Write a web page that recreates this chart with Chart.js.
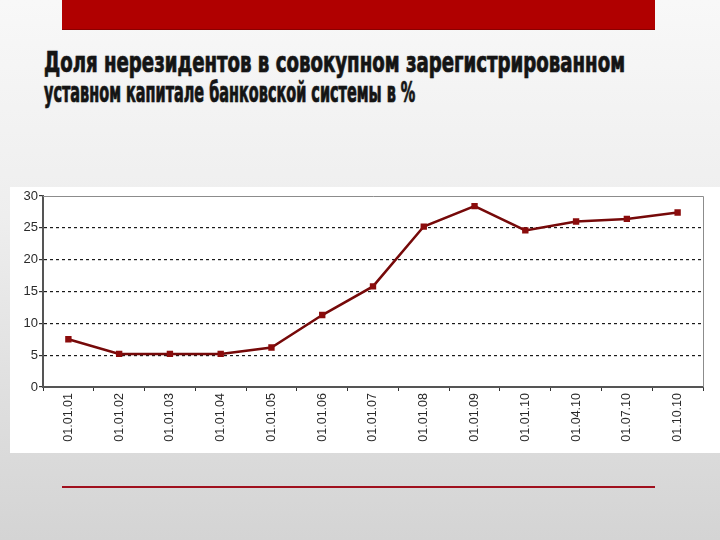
<!DOCTYPE html>
<html>
<head>
<meta charset="utf-8">
<script src="https://cdn.jsdelivr.net/npm/chart.js@4"></script>
<style>
  html, body {
    margin: 0;
    padding: 0;
  }
  body {
    width: 720px;
    height: 540px;
    position: relative;
    overflow: hidden;
    background: linear-gradient(to bottom, #f8f8f8 0%, #eeeeee 40%, #dedede 75%, #d4d4d4 100%);
  }
  .topbar {
    position: absolute;
    left: 62px;
    top: 0;
    width: 593px;
    height: 29px;
    background: #b00000;
    border-bottom: 1px solid #8a0000;
  }
  .title {
    position: absolute;
    left: 44px;
    top: 48px;
    font-family: "DejaVu Sans Condensed", "DejaVu Sans", sans-serif;
    font-weight: bold;
    font-size: 28px;
    line-height: 30px;
    color: #141414;
    -webkit-text-stroke: 0.7px #141414;
    text-shadow: 0 0 2px rgba(0, 0, 0, 0.25);
  }
  .title span {
    display: block;
    white-space: nowrap;
    transform-origin: left top;
  }
  .chartbox {
    position: absolute;
    left: 10px;
    top: 187px;
    width: 710px;
    height: 266px;
    background: #ffffff;
  }
  .bottomline {
    position: absolute;
    left: 62px;
    top: 486px;
    width: 593px;
    height: 2px;
    background: #a0101e;
  }
</style>
</head>
<body>
<div class="topbar"></div>
<div class="title">
  <span id="t1">Доля нерезидентов в совокупном зарегистрированном</span>
  <span id="t2">уставном капитале банковской системы в %</span>
</div>
<div class="chartbox">
  <canvas id="share" width="710" height="266"></canvas>
</div>
<div class="bottomline"></div>

<script>
  // squeeze the title to the condensed look of the slide
  function squeeze(id, w) {
    var el = document.getElementById(id);
    var r = el.getBoundingClientRect().width;
    el.style.transform = 'scaleX(' + (w / r) + ')';
  }
  squeeze('t1', 581);
  squeeze('t2', 462);

  // dates and share of non-residents, %
  var dates = ['01.01.01', '01.01.02', '01.01.03', '01.01.04', '01.01.05', '01.01.06', '01.01.07',
    '01.01.08', '01.01.09', '01.01.10', '01.04.10', '01.07.10', '01.10.10'];
  var shares = [7.5, 5.2, 5.2, 5.2, 6.2, 11.3, 15.8, 25.2, 28.4, 24.6, 26.0, 26.4, 27.4];
  var yTicks = [0, 5, 10, 15, 20, 25, 30];

  // gray frame on top and right of the plot
  var frame = {
    id: 'frame',
    afterDraw: (chart) => {
      var a = chart.chartArea;
      var ctx = chart.ctx;
      ctx.save();
      ctx.strokeStyle = '#8c8c8c';
      ctx.lineWidth = 1;
      ctx.beginPath();
      ctx.moveTo(a.left, a.top + 0.5);
      ctx.lineTo(a.right + 0.5, a.top + 0.5);
      ctx.lineTo(a.right + 0.5, a.bottom);
      ctx.stroke();
      ctx.restore();
    }
  };

  new Chart(document.getElementById('share'), {
    type: 'line',
    data: {
      labels: dates,
      datasets: [{
        data: shares,
        borderColor: '#760909',
        borderWidth: 2.5,
        backgroundColor: '#8b0c0c',
        pointStyle: 'rect',
        pointRadius: 4.5,
        pointBorderWidth: 0,
        tension: 0
      }]
    },
    options: {
      responsive: false,
      animation: false,
      devicePixelRatio: 1,
      layout: { padding: { top: 9, right: 17, left: 0, bottom: 0 } },
      plugins: {
        legend: { display: false },
        tooltip: { enabled: false }
      },
      scales: {
        x: {
          offset: true,
          afterFit: (s) => { s.height = 66; },
          grid: {
            offset: true,
            drawOnChartArea: false,
            drawTicks: true,
            tickLength: 4,
            color: '#333333'
          },
          border: { color: '#555555', width: 2 },
          ticks: {
            minRotation: 90,
            maxRotation: 90,
            autoSkip: false,
            padding: 2,
            color: '#2a2a2a',
            font: { family: 'Liberation Sans', size: 12.5 }
          }
        },
        y: {
          min: 0,
          max: 30,
          afterFit: (s) => { s.width = 33; },
          afterBuildTicks: (s) => { s.ticks = yTicks.map(v => ({ value: v })); },
          grid: {
            color: (c) => (c.tick && c.tick.value > 0 && c.tick.value < 30) ? '#1a1a1a' : 'rgba(0,0,0,0)',
            lineWidth: 1.2,
            tickColor: '#333333',
            tickLength: 4,
            tickBorderDash: []
          },
          border: { color: '#555555', width: 2, dash: [3, 3] },
          ticks: {
            padding: 1,
            color: '#2a2a2a',
            font: { family: 'Liberation Sans', size: 13 }
          }
        }
      }
    },
    plugins: [frame]
  });
</script>
</body>
</html>
